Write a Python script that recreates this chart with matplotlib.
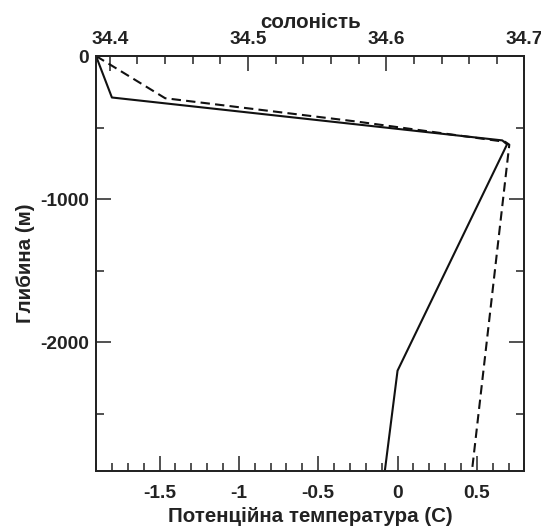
import numpy as np
import matplotlib.pyplot as plt
from matplotlib.ticker import MultipleLocator

plt.rcParams['font.family'] = ['Liberation Sans', 'DejaVu Sans']
plt.rcParams['font.weight'] = 'bold'

# temperature profile (bottom axis)
temp = [-1.9, -1.8, 0.66, 0.69, 0.0, -0.08]
temp_depth = [0, -290, -590, -618, -2200, -2900]

# salinity profile (top axis)
salt = [34.39, 34.44, 34.58, 34.686, 34.689, 34.662]
salt_depth = [0, -295, -460, -600, -620, -2900]

fig = plt.figure(figsize=(5.41, 5.26), dpi=100)
ax = fig.add_axes([0.1775, 0.105, 0.792, 0.7885])

ax.plot(temp, temp_depth, color='#111111', lw=1.5, solid_joinstyle='round')
ax.set_xlim(-1.9, 0.8)
ax.set_ylim(-2900, 0)

ax.xaxis.set_major_locator(MultipleLocator(0.5))
ax.xaxis.set_minor_locator(MultipleLocator(0.1))
ax.yaxis.set_major_locator(MultipleLocator(1000))
ax.yaxis.set_minor_locator(MultipleLocator(500))
ax.set_xticks([-1.5, -1, -0.5, 0, 0.5])
ax.set_xticklabels(['-1.5', '-1', '-0.5', '0', '0.5'])
ax.set_yticks([0, -1000, -2000])
ax.set_yticklabels(['0', '-1000', '-2000'])

ax.tick_params(axis='both', which='both', direction='in', color='#222222', width=1.1)
ax.tick_params(axis='y', which='both', right=True)
ax.tick_params(which='major', length=10.5)
ax.tick_params(which='minor', length=5.5)
ax.tick_params(axis='x', which='major', labelsize=13.8, pad=10, labelcolor='#222222')
ax.tick_params(axis='y', which='major', labelsize=13.8, pad=5, labelcolor='#222222')

ax.set_xlabel('Потенційна температура (С)', fontsize=14.8, fontweight='bold',
              color='#222222', labelpad=4)
ax.set_ylabel('Глибина (м)', fontsize=14.8, fontweight='bold', color='#222222', labelpad=4)

ax2 = ax.twiny()
ax2.plot(salt, salt_depth, color='#111111', lw=1.5, linestyle=(0, (4.5, 2.5)))
ax2.set_xlim(34.39, 34.7)
ax2.set_xticks([34.4, 34.5, 34.6, 34.7])
ax2.set_xticklabels(['34.4', '34.5', '34.6', '34.7'])
ax2.xaxis.set_minor_locator(MultipleLocator(0.02))
ax2.tick_params(axis='x', which='both', direction='in', color='#222222', width=1.1)
ax2.tick_params(axis='x', which='major', length=10.5, labelsize=13.8, pad=6,
                labelcolor='#222222')
ax2.tick_params(axis='x', which='minor', length=5.5)
ax2.set_xlabel('солоність', fontsize=14.8, fontweight='bold', color='#222222', labelpad=2)

for a in (ax, ax2):
    for s in a.spines.values():
        s.set_linewidth(1.3)
        s.set_color('#222222')

fig.savefig('out.png', dpi=100)
